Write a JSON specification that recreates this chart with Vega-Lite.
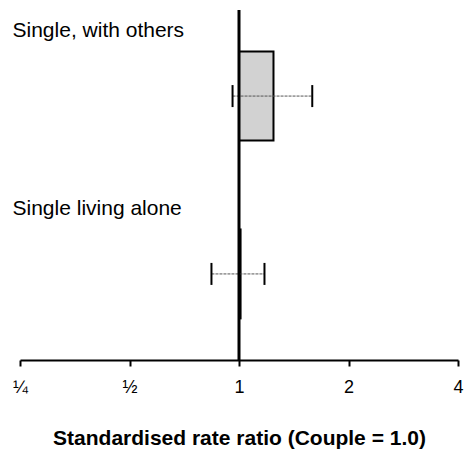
{
  "$schema": "https://vega.github.io/schema/vega-lite/v6.json",
  "autosize": {"type": "none"},
  "padding": {"left": 20, "top": 10, "right": 9, "bottom": 98},
  "width": 438,
  "height": 350,
  "background": "white",
  "config": {
    "font": "Liberation Sans",
    "view": {"stroke": null}
  },
  "data": {
    "values": [
      {"group": "Single, with others", "rr": 1.244, "lo": 0.96, "hi": 1.59},
      {"group": "Single living alone", "rr": 1.01, "lo": 0.84, "hi": 1.175}
    ]
  },
  "encoding": {
    "y": {
      "field": "group",
      "type": "nominal",
      "sort": null,
      "scale": {"paddingInner": 0.5, "paddingOuter": 0.234},
      "axis": {
        "title": null,
        "domain": false,
        "ticks": false,
        "tickSize": 0,
        "labelAlign": "left",
        "labelBaseline": "middle",
        "labelPadding": 8,
        "labelOffset": -65,
        "labelFontSize": 21,
        "labelColor": "black",
        "labelLimit": 400
      }
    }
  },
  "layer": [
    {
      "mark": {"type": "bar", "fill": "#d2d2d2", "stroke": "black", "strokeWidth": 2},
      "encoding": {
        "x": {
          "field": "rr",
          "type": "quantitative",
          "scale": {"type": "log", "domain": [0.25, 4], "nice": false},
          "axis": {
            "values": [0.25, 0.5, 1, 2, 4],
            "labelExpr": "datum.value == 0.25 ? '¼' : datum.value == 0.5 ? '½' : datum.label",
            "grid": false,
            "domainColor": "black",
            "domainWidth": 2,
            "tickColor": "black",
            "tickWidth": 2,
            "tickSize": 6,
            "labelFontSize": 18,
            "labelColor": "black",
            "labelPadding": 12,
            "labelFlush": false,
            "title": "Standardised rate ratio (Couple = 1.0)",
            "titleFontSize": 21,
            "titleFontWeight": "bold",
            "titleColor": "black",
            "titlePadding": 31
          }
        },
        "x2": {"datum": 1}
      }
    },
    {
      "mark": {"type": "rule", "color": "#555555", "strokeWidth": 1, "strokeDash": [3, 1]},
      "encoding": {
        "x": {"field": "lo", "type": "quantitative"},
        "x2": {"field": "hi"}
      }
    },
    {
      "mark": {"type": "tick", "color": "black", "opacity": 1, "thickness": 2, "size": 22, "orient": "vertical"},
      "encoding": {"x": {"field": "lo", "type": "quantitative"}}
    },
    {
      "mark": {"type": "tick", "color": "black", "opacity": 1, "thickness": 2, "size": 22, "orient": "vertical"},
      "encoding": {"x": {"field": "hi", "type": "quantitative"}}
    },
    {
      "data": {"values": [{"ref": 1}]},
      "mark": {"type": "rule", "color": "black", "strokeWidth": 3},
      "encoding": {"x": {"field": "ref", "type": "quantitative"}, "y": null}
    }
  ]
}
